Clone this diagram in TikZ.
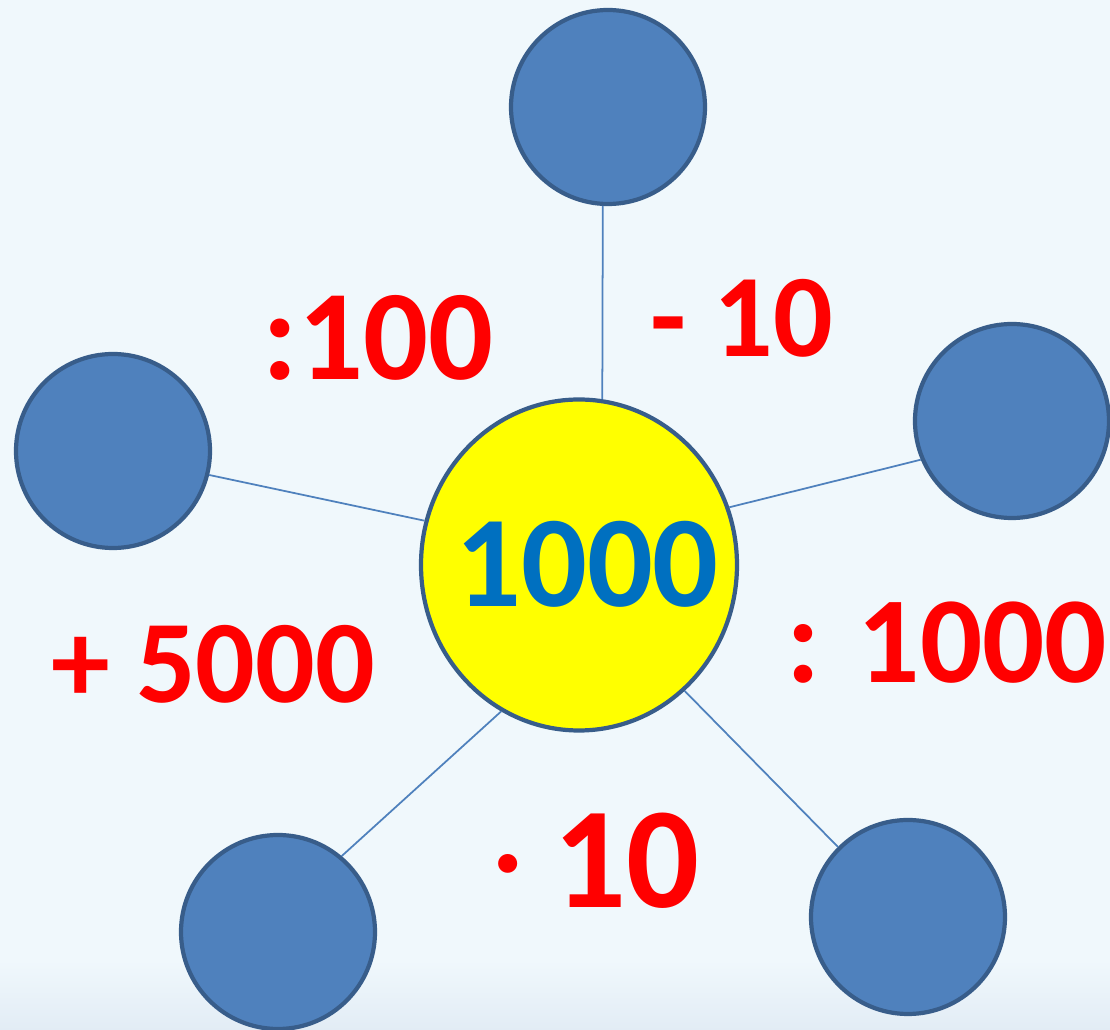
\documentclass[tikz,border=0pt]{standalone}
\usepackage{fontspec}
\setmainfont{Carlito}
\usetikzlibrary{shapes.geometric}
\definecolor{bgcol}{RGB}{240,248,252}
\definecolor{bgdark}{RGB}{226,236,245}
\definecolor{ballfill}{RGB}{79,129,189}
\definecolor{balledge}{RGB}{56,93,138}
\definecolor{numblue}{RGB}{0,112,192}
\definecolor{hubyellow}{RGB}{255,255,0}

\begin{document}
\begin{tikzpicture}[
    hub/.style={ellipse, draw=balledge, line width=1.2pt, fill=hubyellow, minimum width=3.16cm, minimum height=3.31cm, inner sep=0pt},
    leaf/.style={circle, draw=balledge, line width=1.2pt, fill=ballfill, minimum size=1.94cm, inner sep=0pt},
    spoke/.style={draw=ballfill, line width=0.5pt},
    op/.style={anchor=base, inner sep=0pt, text=red, font=\bfseries}
]
% background
\fill[bgcol] (0,0) rectangle (11.1,10.3);
\shade[top color=bgcol, bottom color=bgdark] (0,0) rectangle (11.1,0.7);
\useasboundingbox (0,0) rectangle (11.1,10.3);

% circles
\node[hub] (mid) at (5.79,4.65) {};
\node[anchor=base, inner sep=0pt, text=numblue, font=\bfseries\fontsize{37}{40}\selectfont] (num) at (5.87,4.23) {1000};
\node[leaf] (top) at (6.08,9.23) {};
\node[leaf] (left) at (1.13,5.79) {};
\node[leaf] (right) at (10.12,6.09) {};
\node[leaf] (botleft) at (2.78,0.98) {};
\node[leaf] (botright) at (9.08,1.13) {};

% spokes
\draw[spoke] (top.-93) -- (mid.82);
\draw[spoke] (left.-14) -- (mid.164);
\draw[spoke] (right.-157) -- (mid.21);
\draw[spoke] (botleft.50) -- (mid.-118);
\draw[spoke] (botright.135) -- (mid.-50);

% operations
\node[op, font=\bfseries\fontsize{36.5}{40}\selectfont] (div100) at (3.78,6.50) {:100};
\node[op, font=\bfseries\fontsize{33.5}{40}\selectfont] (minus10) at (7.42,6.73) {- 10};
\node[op, font=\bfseries\fontsize{35}{40}\selectfont] (div1000) at (9.47,3.47) {: 1000};
\node[op, font=\bfseries\fontsize{33.5}{40}\selectfont] (plus5000) at (2.13,3.27) {+ 5000};
\node[op, font=\bfseries\fontsize{41}{45}\selectfont] (times10) at (5.97,1.22) {{\fontsize{29}{29}\selectfont\raisebox{0.15cm}{·}} 10};
\end{tikzpicture}
\end{document}
